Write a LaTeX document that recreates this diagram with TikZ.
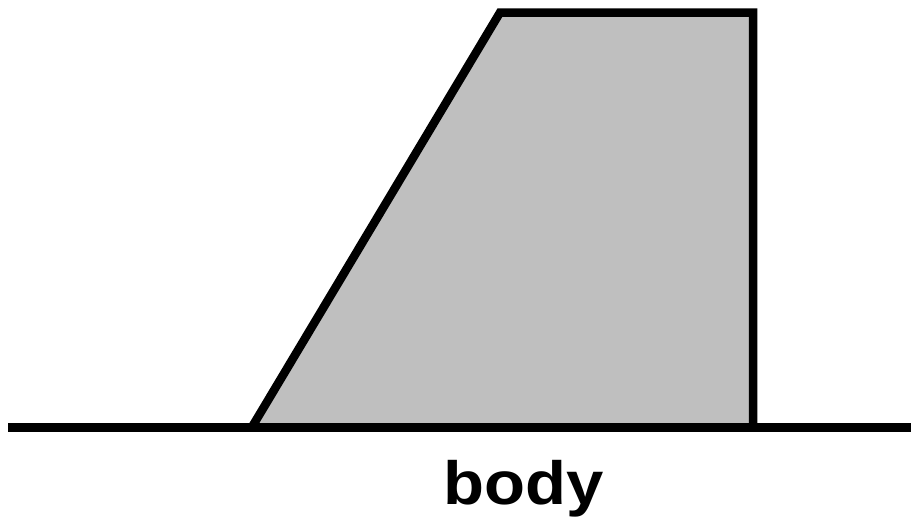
\documentclass[tikz,border=0pt]{standalone}
\usepackage{fontspec}
\setmainfont{Liberation Sans}
\tikzset{
  outline/.style={line width=8.5pt, draw=black, line join=miter},
  bodyfill/.style={fill=bodygray},
  lbl/.style={font=\bfseries\fontsize{61}{72}\selectfont, inner sep=0pt, anchor=base, xscale=1.1}
}
\definecolor{bodygray}{RGB}{191,191,191}
\begin{document}
\begin{tikzpicture}[x=1pt,y=-1pt]
\useasboundingbox (0,0) rectangle (911,520);
\fill[bodyfill] (252,427) -- (500,12.5) -- (753,12.5) -- (753,427) -- cycle;
\draw[outline] (252,427) -- (500,12.5) -- (753,12.5) -- (753,427);
\draw[outline] (8,427.5) -- (911,427.5);
\node[lbl] (body) at (523.5,504) {body};
\end{tikzpicture}
\end{document}
